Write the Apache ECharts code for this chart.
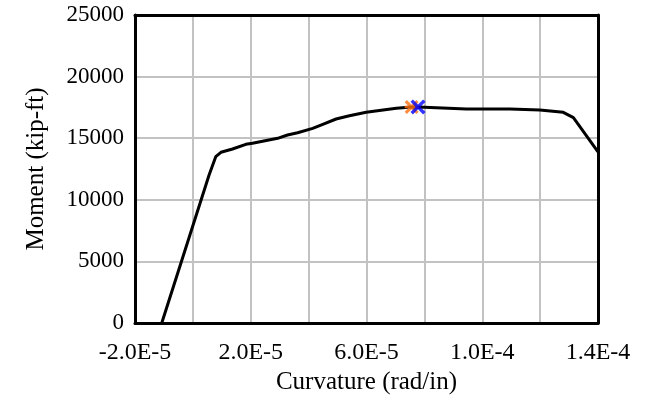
<!doctype html>
<html lang="en">
	<head>
		<meta charset="UTF-8">
		<title>Moment-Curvature</title>
		<script src="https://cdn.jsdelivr.net/npm/echarts@6/dist/echarts.min.js"></script>
	</head>
	<body style="margin: 0;">
		<div id="chart" style="width: 659px; height: 401px;"></div>
		<script>
			// curvature (rad/in) and moment (kip-ft)
			const curvature = [-1.075e-5, 5.6e-6, 7.9e-6, 9.7e-6, 1.37e-5, 1.83e-5, 2.06e-5, 2.93e-5, 3.27e-5,
				3.62e-5, 4.14e-5, 4.49e-5, 4.95e-5, 5.41e-5, 5.99e-5, 7.03e-5, 7.56e-5, 8.0e-5, 9.45e-5,
				1.095e-4, 1.199e-4, 1.28e-4, 1.315e-4, 1.4e-4]
			const moment = [0, 12013, 13500, 13855, 14123, 14505, 14586, 14990, 15260,
				15447, 15800, 16128, 16558, 16826, 17100, 17426, 17530, 17508, 17370,
				17370, 17290, 17100, 16664, 13880]

			// marked points
			const orangePt = [7.56e-5, 17540]
			const bluePt = [7.78e-5, 17540]

			const xTicks = ['-2.0E-5', '2.0E-5', '6.0E-5', '1.0E-4', '1.4E-4']

			let lineData = []
			for (let i = 0; i < curvature.length; i++) {
				lineData.push([curvature[i], moment[i]])
			}

			const font = 'Liberation Serif'
			const gridColor = '#c2c2c2'
			const xPath = 'path://M0,1.6 L1.6,0 L5,3.4 L8.4,0 L10,1.6 L6.6,5 L10,8.4 L8.4,10 L5,6.6 L1.6,10 L0,8.4 L3.4,5 Z'
			const starPath = 'path://M0,1.6 L1.6,0 L5,3.4 L8.4,0 L10,1.6 L6.6,5 L10,8.4 L8.4,10 L5,6.6 L1.6,10 L0,8.4 L3.4,5 Z M0,4.1 L10,4.1 L10,5.9 L0,5.9 Z'

			let mCharts = echarts.init(document.getElementById('chart'))
			let option = {
				animation: false,
				grid: {
					left: 135,
					right: 61,
					top: 15,
					bottom: 78
				},
				xAxis: [{
					type: 'value',
					min: -2e-5,
					max: 1.4e-4,
					interval: 2e-5,
					name: 'Curvature (rad/in)',
					nameLocation: 'middle',
					nameGap: 44,
					nameTextStyle: { fontFamily: font, fontSize: 25, color: '#000' },
					axisLine: { show: true, onZero: false, lineStyle: { color: '#000', width: 3 } },
					axisTick: { show: false },
					axisLabel: {
						fontFamily: font,
						fontSize: 24,
						color: '#000',
						margin: 18,
						showMinLabel: true,
						showMaxLabel: true,
						formatter: (v) => {
							let k = Math.round(v / 1e-5)
							let idx = (k + 2) / 4
							return Number.isInteger(idx) ? (xTicks[idx] || '') : ''
						}
					},
					splitLine: { show: true, lineStyle: { color: gridColor, width: 2 } }
				}, {
					// top frame line
					type: 'value',
					position: 'top',
					min: -2e-5,
					max: 1.4e-4,
					axisLine: { show: true, onZero: false, lineStyle: { color: '#000', width: 3 } },
					axisTick: { show: false },
					axisLabel: { show: false },
					splitLine: { show: false }
				}],
				yAxis: [{
					type: 'value',
					min: 0,
					max: 25000,
					interval: 5000,
					name: 'Moment (kip-ft)',
					nameLocation: 'middle',
					nameGap: 86,
					nameTextStyle: { fontFamily: font, fontSize: 25, color: '#000' },
					axisLine: { show: true, onZero: false, lineStyle: { color: '#000', width: 3 } },
					axisTick: { show: false },
					axisLabel: {
						fontFamily: font,
						fontSize: 23,
						color: '#000',
						margin: 11,
						formatter: (v) => String(v)
					},
					splitLine: { show: true, lineStyle: { color: gridColor, width: 2 } }
				}, {
					// right frame line
					type: 'value',
					position: 'right',
					min: 0,
					max: 25000,
					axisLine: { show: true, onZero: false, lineStyle: { color: '#000', width: 3 } },
					axisTick: { show: false },
					axisLabel: { show: false },
					splitLine: { show: false }
				}],
				series: [{
					type: 'line',
					data: lineData,
					showSymbol: false,
					symbol: 'none',
					lineStyle: { color: '#000', width: 3 },
					z: 2
				}, {
					type: 'scatter',
					data: [orangePt],
					symbol: starPath,
					symbolSize: 14,
					itemStyle: { color: '#ff7010' },
					z: 3
				}, {
					type: 'scatter',
					data: [bluePt],
					symbol: xPath,
					symbolSize: 15,
					itemStyle: { color: '#0000ff' },
					z: 4
				}]
			}
			mCharts.setOption(option)
		</script>
	</body>
</html>
